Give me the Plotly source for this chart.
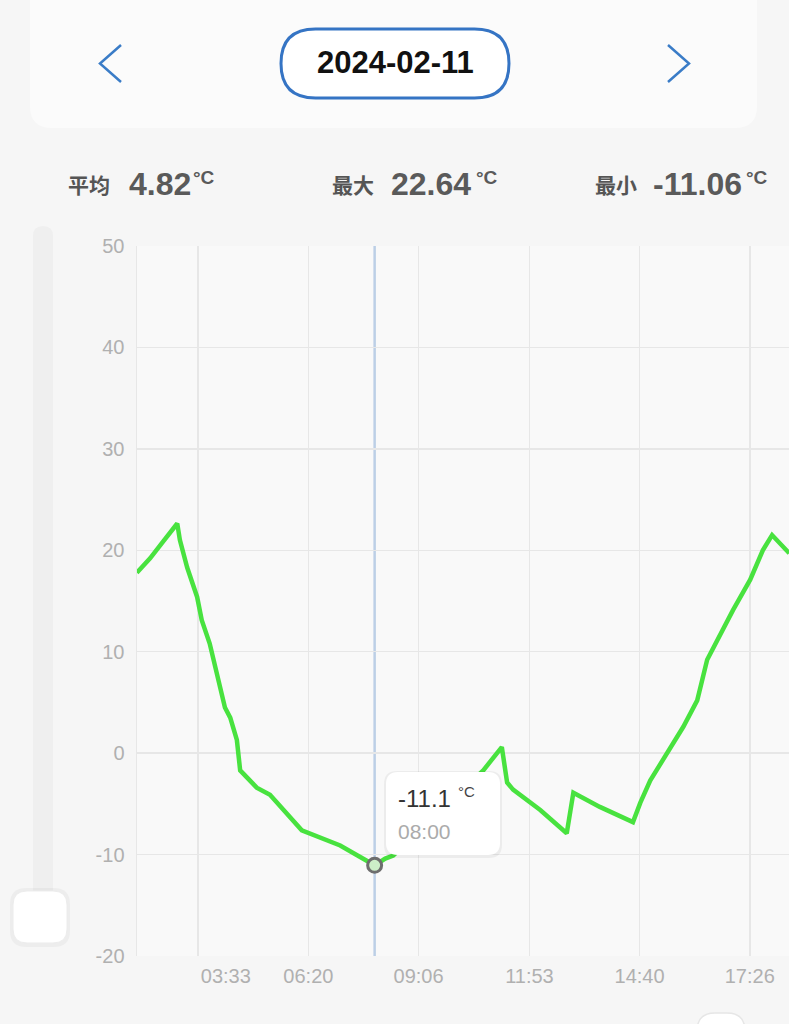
import plotly.graph_objects as go

# ---------------- data ----------------
times = ["02:01", "02:21", "02:40", "03:02", "03:06", "03:17", "03:32", "03:39", "03:51",
         "04:03", "04:14", "04:22", "04:32", "04:37", "05:02", "05:22", "05:45", "06:10",
         "07:08", "08:00", "08:16", "08:28", "10:44", "10:59", "11:12", "11:20", "11:29",
         "12:10", "12:50", "13:00", "13:40", "14:30", "14:41", "14:56", "15:23", "15:46",
         "16:07", "16:22", "17:01", "17:27", "17:46", "18:00", "18:26"]
temps = [17.8, 19.2, 20.8, 22.64, 21.0, 18.3, 15.4, 13.1, 10.8,
         7.5, 4.5, 3.5, 1.3, -1.7, -3.4, -4.1, -5.8, -7.6,
         -9.1, -11.06, -10.4, -10.1, -1.7, -0.5, 0.6, -2.9, -3.6,
         -5.6, -7.9, -3.9, -5.3, -6.8, -4.9, -2.7, 0.1, 2.6,
         5.2, 9.2, 14.1, 17.1, 20.0, 21.5, 19.7]
x_tick_labels = ["03:33", "06:20", "09:06", "11:53", "14:40", "17:26"]
y_ticks = [-20, -10, 0, 10, 20, 30, 40, 50]
date_label = "2024-02-11"
stat_names = ["平均", "最大", "最小"]
stat_values = [4.82, 22.64, -11.06]
hover_time = "08:00"
x_range = ["02:01", "18:26"]


def to_min(s):
    h, m = s.split(":")
    return int(h) * 60 + int(m)


def lab_to_min(s):
    # tick labels are truncated from 10000 s steps (e.g. 03:33:20)
    base = to_min(s)
    return base + (20 / 60 if s in ("03:33", "09:06", "17:26") else 0) + (40 / 60 if s in ("11:53",) else 0)


xm = [to_min(t) for t in times]
tick_vals = [lab_to_min(s) for s in x_tick_labels]
hx = to_min(hover_time)
hy = temps[times.index(hover_time)]

# ---------------- layout geometry ----------------
W, H = 789, 1024
L, R, T, B = 137, 789, 246, 956
FONT = "Liberation Sans, Noto Sans CJK SC, sans-serif"


def px(x):
    return (x - L) / (R - L)


def py(y):
    return (B - y) / (B - T)


def rrect(x0, y0, x1, y1, r):
    pts = [("M", x0 + r, y0), ("L", x1 - r, y0), ("Q", x1, y0, x1, y0 + r),
           ("L", x1, y1 - r), ("Q", x1, y1, x1 - r, y1), ("L", x0 + r, y1),
           ("Q", x0, y1, x0, y1 - r), ("L", x0, y0 + r), ("Q", x0, y0, x0 + r, y0)]
    out = []
    for p in pts:
        c = p[0]
        coords = p[1:]
        s = []
        for i in range(0, len(coords), 2):
            s.append(f"{px(coords[i]):.5f},{py(coords[i + 1]):.5f}")
        out.append(c + " " + " ".join(s))
    return " ".join(out) + " Z"


def polyline(pts):
    return "M " + " L ".join(f"{px(a):.5f},{py(b):.5f}" for a, b in pts)


fig = go.Figure()

fig.add_trace(go.Scatter(x=xm, y=temps, mode="lines",
                         line=dict(color="#48e23f", width=4.5, shape="linear"),
                         hoverinfo="skip", showlegend=False))
fig.add_trace(go.Scatter(x=[hx], y=[hy], mode="markers",
                         marker=dict(size=14, color="#cdeec8", line=dict(color="#6e6e6e", width=3)),
                         hoverinfo="skip", showlegend=False))

shapes = []
# top card
shapes.append(dict(type="path", xref="paper", yref="paper", path=rrect(30, -30, 757, 128, 22),
                   fillcolor="#fbfbfb", line=dict(width=0), layer="below"))
# pill
shapes.append(dict(type="path", xref="paper", yref="paper", path=rrect(281, 29, 509, 98, 34.5),
                   fillcolor="#ffffff", line=dict(color="#3574c4", width=3)))
# chevrons
shapes.append(dict(type="path", xref="paper", yref="paper",
                   path=polyline([(121, 45), (100, 63.5), (121, 82)]),
                   line=dict(color="#3a7cc7", width=2.5)))
shapes.append(dict(type="path", xref="paper", yref="paper",
                   path=polyline([(668, 45), (689, 63.5), (668, 82)]),
                   line=dict(color="#3a7cc7", width=2.5)))
# slider track and knob
shapes.append(dict(type="path", xref="paper", yref="paper", path=rrect(33, 226, 53, 905, 10),
                   fillcolor="#efefef", line=dict(width=0), layer="below"))
shapes.append(dict(type="path", xref="paper", yref="paper", path=rrect(10, 888, 70, 947, 16),
                   fillcolor="rgba(0,0,0,0.035)", line=dict(width=0)))
shapes.append(dict(type="path", xref="paper", yref="paper", path=rrect(13, 891, 67, 943, 14),
                   fillcolor="#ffffff", line=dict(color="#ececec", width=1)))
# bottom-right partial control
shapes.append(dict(type="path", xref="paper", yref="paper", path=rrect(697, 1013, 745, 1060, 18),
                   fillcolor="#ffffff", line=dict(color="#e6e6e6", width=1.5)))
# crosshair
shapes.append(dict(type="line", xref="x", yref="paper", x0=hx, x1=hx, y0=0, y1=1,
                   line=dict(color="#bccfe6", width=2.5), layer="between"))
# tooltip
shapes.append(dict(type="path", xref="paper", yref="paper", path=rrect(384, 771, 502, 858, 13),
                   fillcolor="rgba(0,0,0,0.05)", line=dict(width=0)))
shapes.append(dict(type="path", xref="paper", yref="paper", path=rrect(386, 772, 500, 855, 12),
                   fillcolor="#ffffff", line=dict(width=0)))

ann = []


def text(x, y, s, size, color, bold=False, anchor="left"):
    ann.append(dict(x=px(x), y=py(y), xref="paper", yref="paper", text=f"<b>{s}</b>" if bold else s,
                    showarrow=False, xanchor=anchor, yanchor="middle",
                    font=dict(family=FONT, size=size, color=color)))


text(395, 63, date_label, 31, "#111111", bold=True, anchor="center")

stat_x = [(66, 127, 191), (330, 389, 474), (593, 651, 744)]
for (nx, vx, ux), name, val in zip(stat_x, stat_names, stat_values):
    text(nx, 186, name, 21, "#555555", bold=True)
    text(vx, 184, f"{val:.2f}", 32, "#5a5a5a", bold=True)
    text(ux, 178, "°C", 19, "#5a5a5a", bold=True)

text(396, 798, f"{hy:.1f}", 24, "#333333")
text(456, 791, "°C", 15, "#444444")
text(396, 831, hover_time, 21, "#ababab")

ticktext = list(x_tick_labels)
ticktext[0] = "\u00a0" * 10 + ticktext[0]
y_ticktext = [str(v) for v in y_ticks]

fig.update_layout(
    width=W, height=H,
    margin=dict(l=L, r=W - R, t=T, b=H - B, pad=0),
    paper_bgcolor="#f6f6f6", plot_bgcolor="#f9f9f9",
    shapes=shapes, annotations=ann, showlegend=False,
    font=dict(family=FONT),
    xaxis=dict(range=[to_min(x_range[0]) + 0.24, to_min(x_range[1]) - 0.45], tickvals=tick_vals,
               ticktext=ticktext, showgrid=True, gridcolor="#e7e7e7", gridwidth=1.5,
               zeroline=False, showline=False, ticks="",
               tickfont=dict(size=20, color="#b0b0b0", family=FONT), ticklabelstandoff=6),
    yaxis=dict(range=[-20, 50], tickvals=y_ticks, ticktext=y_ticktext, showgrid=True,
               gridcolor="#e7e7e7", gridwidth=1.5,
               zeroline=False, showline=True, linecolor="#e7e7e7", linewidth=1.5, ticks="",
               tickfont=dict(size=20, color="#b0b0b0", family=FONT), ticklabelstandoff=7),
)

fig.write_html("out.html", config={"staticPlot": True},
               post_script="document.body.style.margin='0';document.body.style.overflow='hidden';"
                           "document.documentElement.style.overflow='hidden';")
